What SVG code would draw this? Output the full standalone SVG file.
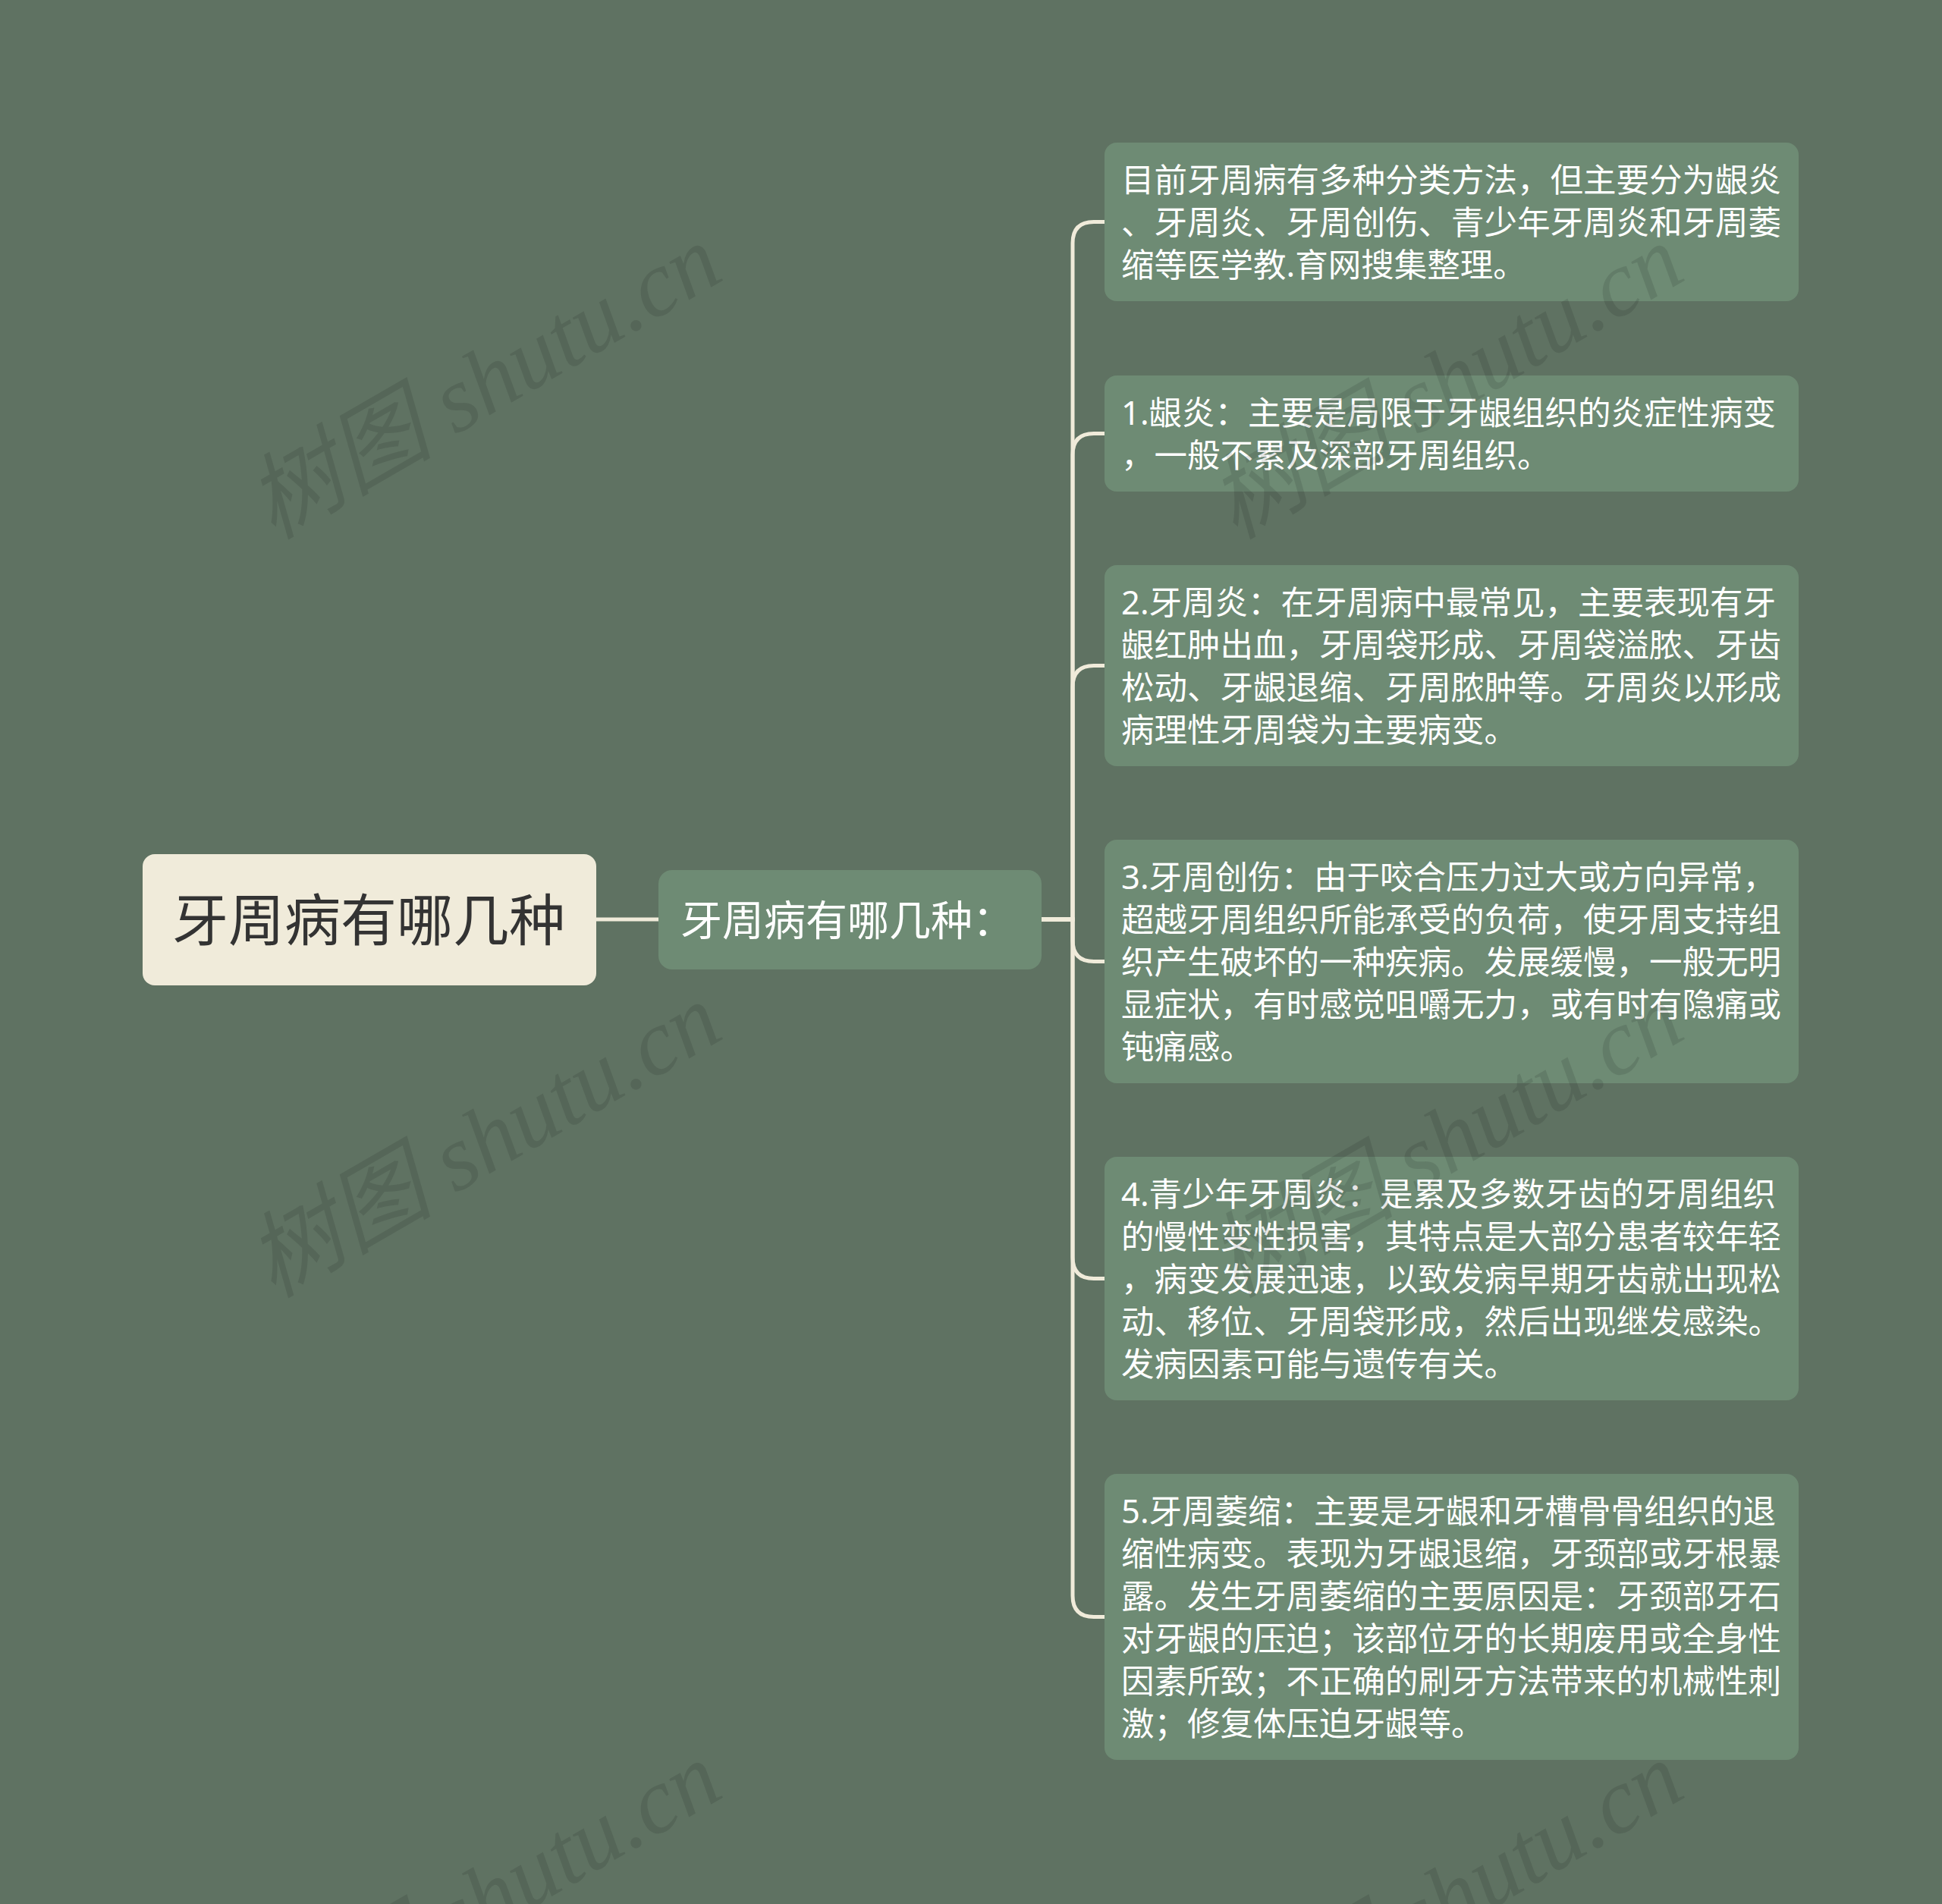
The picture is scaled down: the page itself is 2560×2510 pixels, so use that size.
<svg xmlns="http://www.w3.org/2000/svg" width="2560" height="2510" viewBox="0 0 2560 2510">
<style>
.bg{fill:#5f7262}
.root{fill:#f0ebda}
.box{fill:#6e8b74}
.edge{fill:none;stroke:#f0ebda;stroke-width:5;stroke-linecap:round}
.t{font-family:"Noto Sans","Noto Sans CJK SC",sans-serif}
.rt{font-size:74px;fill:#333333}
.mt{font-size:55px;fill:#ffffff}
.lt{font-size:43.5px;fill:#ffffff}
.wm{font-family:"Liberation Serif","Noto Sans CJK SC",serif;font-style:italic;font-size:123px;fill:#000000;fill-opacity:0.1}
</style>
<rect class="bg" x="0" y="0" width="2560" height="2510"/>
<g id="connectors">
<path class="edge" d="M786 1212 H868"/>
<path class="edge" d="M1373 1212 H1414 V320.5 Q1414 292.5 1442 292.5 H1456"/>
<path class="edge" d="M1373 1212 H1414 V599.5 Q1414 571.5 1442 571.5 H1456"/>
<path class="edge" d="M1373 1212 H1414 V905.5 Q1414 877.5 1442 877.5 H1456"/>
<path class="edge" d="M1373 1212 H1414 V1239.5 Q1414 1267.5 1442 1267.5 H1456"/>
<path class="edge" d="M1373 1212 H1414 V1657.5 Q1414 1685.5 1442 1685.5 H1456"/>
<path class="edge" d="M1373 1212 H1414 V2103.5 Q1414 2131.5 1442 2131.5 H1456"/>
</g>
<g id="root">
<rect class="root" x="188" y="1126" width="598" height="173" rx="16"/>
<text class="t rt" x="227" y="1240">牙周病有哪几种</text>
</g>
<g id="mid">
<rect class="box" x="868" y="1147" width="505" height="131" rx="18"/>
<text class="t mt" x="897" y="1233">牙周病有哪几种：</text>
</g>
<g id="leaf1">
<rect class="box" x="1456" y="188" width="915" height="209" rx="16"/>
<text class="t lt"><tspan x="1478" y="253">目前牙周病有多种分类方法，但主要分为龈炎</tspan><tspan x="1478" y="309">、牙周炎、牙周创伤、青少年牙周炎和牙周萎</tspan><tspan x="1478" y="365">缩等医学教.育网搜集整理。</tspan></text>
</g>
<g id="leaf2">
<rect class="box" x="1456" y="495" width="915" height="153" rx="16"/>
<text class="t lt"><tspan x="1478" y="560">1.龈炎：主要是局限于牙龈组织的炎症性病变</tspan><tspan x="1478" y="616">，一般不累及深部牙周组织。</tspan></text>
</g>
<g id="leaf3">
<rect class="box" x="1456" y="745" width="915" height="265" rx="16"/>
<text class="t lt"><tspan x="1478" y="810">2.牙周炎：在牙周病中最常见，主要表现有牙</tspan><tspan x="1478" y="866">龈红肿出血，牙周袋形成、牙周袋溢脓、牙齿</tspan><tspan x="1478" y="922">松动、牙龈退缩、牙周脓肿等。牙周炎以形成</tspan><tspan x="1478" y="978">病理性牙周袋为主要病变。</tspan></text>
</g>
<g id="leaf4">
<rect class="box" x="1456" y="1107" width="915" height="321" rx="16"/>
<text class="t lt"><tspan x="1478" y="1172">3.牙周创伤：由于咬合压力过大或方向异常，</tspan><tspan x="1478" y="1228">超越牙周组织所能承受的负荷，使牙周支持组</tspan><tspan x="1478" y="1284">织产生破坏的一种疾病。发展缓慢，一般无明</tspan><tspan x="1478" y="1340">显症状，有时感觉咀嚼无力，或有时有隐痛或</tspan><tspan x="1478" y="1396">钝痛感。</tspan></text>
</g>
<g id="leaf5">
<rect class="box" x="1456" y="1525" width="915" height="321" rx="16"/>
<text class="t lt"><tspan x="1478" y="1590">4.青少年牙周炎：是累及多数牙齿的牙周组织</tspan><tspan x="1478" y="1646">的慢性变性损害，其特点是大部分患者较年轻</tspan><tspan x="1478" y="1702">，病变发展迅速，以致发病早期牙齿就出现松</tspan><tspan x="1478" y="1758">动、移位、牙周袋形成，然后出现继发感染。</tspan><tspan x="1478" y="1814">发病因素可能与遗传有关。</tspan></text>
</g>
<g id="leaf6">
<rect class="box" x="1456" y="1943" width="915" height="377" rx="16"/>
<text class="t lt"><tspan x="1478" y="2008">5.牙周萎缩：主要是牙龈和牙槽骨骨组织的退</tspan><tspan x="1478" y="2064">缩性病变。表现为牙龈退缩，牙颈部或牙根暴</tspan><tspan x="1478" y="2120">露。发生牙周萎缩的主要原因是：牙颈部牙石</tspan><tspan x="1478" y="2176">对牙龈的压迫；该部位牙的长期废用或全身性</tspan><tspan x="1478" y="2232">因素所致；不正确的刷牙方法带来的机械性刺</tspan><tspan x="1478" y="2288">激；修复体压迫牙龈等。</tspan></text>
</g>
<g id="watermark">
<text class="wm" transform="translate(360 712) rotate(-30)">树图 shutu.cn</text>
<text class="wm" transform="translate(360 1712) rotate(-30)">树图 shutu.cn</text>
<text class="wm" transform="translate(360 2712) rotate(-30)">树图 shutu.cn</text>
<text class="wm" transform="translate(1628 712) rotate(-30)">树图 shutu.cn</text>
<text class="wm" transform="translate(1628 1712) rotate(-30)">树图 shutu.cn</text>
<text class="wm" transform="translate(1628 2712) rotate(-30)">树图 shutu.cn</text>
</g>
</svg>
